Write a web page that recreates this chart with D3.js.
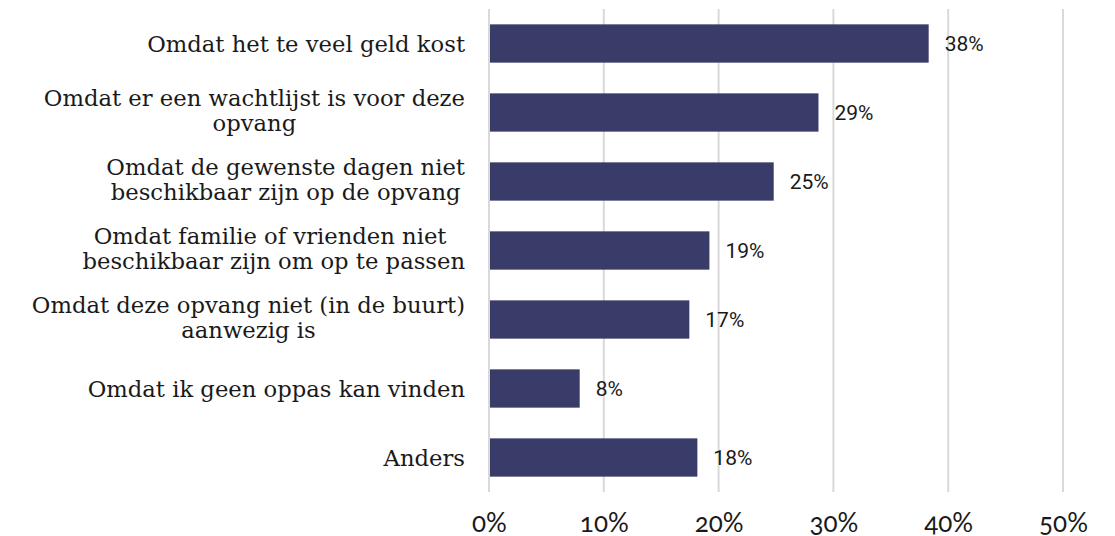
<!DOCTYPE html>
<html>
<head>
<meta charset="utf-8">
<script src="https://cdn.jsdelivr.net/npm/d3@7"></script>
<style>
  html, body { margin: 0; padding: 0; background: #ffffff; }
  svg { display: block; }
</style>
</head>
<body>
<script>
// ---- data ----
const categories = [
  ["Omdat het te veel geld kost"],
  ["Omdat er een wachtlijst is voor deze", "opvang"],
  ["Omdat de gewenste dagen niet", "beschikbaar zijn op de opvang"],
  ["Omdat familie of vrienden niet ", "beschikbaar zijn om op te passen"],
  ["Omdat deze opvang niet (in de buurt)", "aanwezig is"],
  ["Omdat ik geen oppas kan vinden"],
  ["Anders"]
];
const values = [38.3, 28.7, 24.8, 19.2, 17.45, 7.9, 18.15];
const valueLabels = ["38%", "29%", "25%", "19%", "17%", "8%", "18%"];
const tickValues = [0, 10, 20, 30, 40, 50];
const tickLabels = ["0%", "10%", "20%", "30%", "40%", "50%"];

// ---- layout ----
const W = 1115, H = 536;
const x0 = 489, x1 = 1063;
const yTop = 9, yBottom = 492;
const labelRight = 465;

const svg = d3.select("body").append("svg").attr("width", W).attr("height", H);

const x = d3.scaleLinear().domain([0, 50]).range([x0, x1]);
const ids = categories.map((d, i) => i);
const y = d3.scaleBand().domain(ids).range([yTop, yBottom]).paddingInner(0.445).paddingOuter(0.2225);

// gridlines
svg.append("g").selectAll("line").data(tickValues).join("line")
  .attr("x1", d => x(d)).attr("x2", d => x(d))
  .attr("y1", yTop).attr("y2", yBottom)
  .attr("stroke", "#d9d9d9").attr("stroke-width", 2);

// bars
svg.append("g").selectAll("rect").data(values).join("rect")
  .attr("x", x(0) + 1)
  .attr("y", (d, i) => y(i))
  .attr("width", d => x(d) - x(0) - 1)
  .attr("height", y.bandwidth())
  .attr("fill", "#393c68");

// value labels
svg.append("g").selectAll("text").data(values).join("text")
  .attr("x", d => x(d) + 16)
  .attr("y", (d, i) => y(i) + y.bandwidth() / 2)
  .attr("dy", "0.36em")
  .attr("font-family", "Roboto, sans-serif")
  .attr("font-size", 21)
  .attr("fill", "#1a1a1a")
  .text((d, i) => valueLabels[i]);

// category labels: block right-aligned, lines centred within block
const catG = svg.append("g");
categories.forEach((lines, i) => {
  const c = y(i) + y.bandwidth() / 2;
  const t = catG.append("text")
    .attr("text-anchor", "middle")
    .attr("font-family", "'DejaVu Serif', serif")
    .attr("font-size", 22.7)
    .attr("fill", "#1a1a1a")
    .style("white-space", "pre");
  const offs = lines.length === 1 ? [8] : [-7, 18];
  const spans = lines.map((ln, j) =>
    t.append("tspan").attr("y", c + offs[j]).text(ln));
  const maxW = d3.max(spans, s => s.node().getComputedTextLength());
  spans.forEach(s => s.attr("x", labelRight - maxW / 2));
});

// x axis tick labels
const axis = d3.axisBottom(x).tickValues(tickValues).tickSize(0).tickPadding(0)
  .tickFormat((d, i) => tickLabels[i]);
const ag = svg.append("g").attr("transform", `translate(0, ${yBottom})`).call(axis);
ag.select(".domain").remove();
ag.selectAll("text")
  .attr("y", 39.5).attr("dy", null)
  .attr("font-family", "Lato, 'Open Sans', sans-serif")
  .attr("font-size", 26)
  .style("font-variant-numeric", "oldstyle-nums")
  .attr("fill", "#1a1a1a");
</script>
</body>
</html>
